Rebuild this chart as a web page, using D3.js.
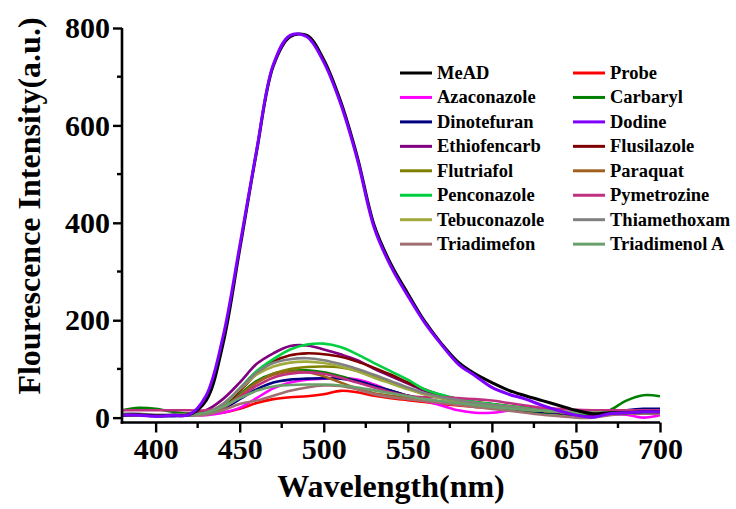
<!DOCTYPE html>
<html><head><meta charset="utf-8">
<script src="https://cdn.jsdelivr.net/npm/d3@7"></script>
<style>html,body{margin:0;padding:0;background:#fff;}svg{display:block;}</style>
</head><body>
<svg id="chart" width="736" height="509"></svg>
<script>
const wavelengths = [380,390,400,410,420,430,440,450,460,470,480,490,500,510,520,530,540,550,560,570,580,590,600,610,620,630,640,650,660,670,680,690,700];
const mead         = [5,6,4,5,6,35,150,345,545,722,782,785,735,650,535,395,315,255,198,152,114,90,72,56,45,35,25,15,8,10,10,12,12];
const probe        = [5,5,5,5,8,8,10,18,30,38,42,44,48,55,52,45,40,36,32,28,25,22,20,18,15,12,10,8,8,8,8,8,8];
const azaconazole  = [5,5,5,5,5,5,10,20,40,60,72,78,80,82,78,68,55,45,35,25,15,10,10,14,16,14,12,10,10,8,6,0,5];
const carbaryl     = [15,20,18,12,8,10,22,48,75,90,96,97,93,85,75,65,55,45,38,32,28,24,20,16,12,10,8,5,5,15,35,46,44];
const dinotefuran  = [5,5,3,3,5,8,18,38,58,72,78,80,81,80,75,65,55,45,38,32,28,24,20,18,15,12,10,8,8,10,15,18,18];
const dodine       = [5,5,3,5,6,45,165,352,548,725,785,782,730,645,530,390,310,250,195,150,110,86,62,48,38,25,14,5,1,8,10,12,12];
const ethiofencarb = [5,5,5,5,8,15,38,72,110,132,147,148,140,130,118,100,85,70,55,45,38,30,26,22,18,14,10,6,3,6,8,10,12];
const flusilazole  = [5,5,5,5,6,10,25,55,90,115,128,132,130,125,115,102,88,72,58,46,38,32,28,24,20,16,12,10,8,8,10,10,12];
const flutriafol   = [5,5,5,5,6,8,20,45,72,90,100,104,105,103,96,85,72,60,48,40,34,28,24,20,17,14,12,10,10,10,10,12,12];
const paraquat     = [5,5,5,5,6,8,20,45,72,88,94,93,85,72,60,50,45,40,36,32,28,25,22,20,17,14,12,10,8,8,8,8,8];
const penconazole  = [5,5,5,5,5,8,25,60,95,120,140,150,152,145,130,112,95,78,58,47,38,32,28,24,20,15,12,10,8,8,10,12,14];
const pymetrozine  = [15,15,15,15,15,15,22,42,65,82,90,93,90,82,72,62,52,45,42,42,40,38,35,30,25,20,18,16,15,15,15,15,15];
const tebuconazole = [5,5,5,5,6,10,28,58,88,105,113,115,112,105,95,82,70,58,48,40,35,30,26,22,18,14,12,10,10,10,10,10,12];
const thiamethoxam = [8,8,6,6,6,10,28,60,92,112,120,122,118,110,100,88,75,62,50,42,36,30,26,22,18,15,12,10,10,10,10,10,10];
const triadimefon  = [5,5,5,5,5,6,15,28,35,45,55,62,66,65,58,48,42,38,34,30,26,22,18,14,10,6,3,0,0,5,8,8,8];
const triadimenolA = [5,5,5,5,6,10,22,40,55,64,67,68,68,66,62,56,50,44,38,34,30,26,22,19,16,14,12,10,10,10,10,10,12];

const seriesNames  = ["MeAD","Probe","Azaconazole","Carbaryl","Dinotefuran","Dodine","Ethiofencarb","Flusilazole","Flutriafol","Paraquat","Penconazole","Pymetrozine","Tebuconazole","Thiamethoxam","Triadimefon","Triadimenol A"];
const seriesValues = [mead,probe,azaconazole,carbaryl,dinotefuran,dodine,ethiofencarb,flusilazole,flutriafol,paraquat,penconazole,pymetrozine,tebuconazole,thiamethoxam,triadimefon,triadimenolA];
const seriesColors = ["#000000","#ff0000","#ff00ff","#008000","#000080","#8000ff","#800080","#800000","#808000","#a0601e","#00d040","#c03080","#a0aa3c","#808080","#a07070","#6aa06a"];
const xTicks = [400,450,500,550,600,650,700];
const yTicks = [0,200,400,600,800];

const svg = d3.select("#chart");
const m = {left:122, right:76, top:28, bottom:86.5};
const W = 736, H = 509;
const x = d3.scaleLinear().domain([380,700]).range([m.left, W - m.right]);
const y = d3.scaleLinear().domain([-10,800]).range([H - m.bottom, m.top]);
const font = "'Liberation Serif','Times New Roman',serif";

svg.append("defs").append("clipPath").attr("id","clip").append("rect")
  .attr("x", m.left).attr("y", m.top - 5).attr("width", x(700) - m.left).attr("height", y(-10) - m.top + 5);

const line = d3.line().x((d,i)=>x(wavelengths[i])).y(d=>y(d)).curve(d3.curveCatmullRom.alpha(0.5));
const g = svg.append("g").attr("clip-path","url(#clip)");
const order = [1,2,3,4,6,7,8,9,10,11,12,13,14,15,0,5];
order.forEach(i => {
  g.append("path").datum(seriesValues[i]).attr("d", line)
    .attr("fill","none").attr("stroke", seriesColors[i])
    .attr("stroke-width", (i===0||i===5) ? 3 : 2.6).attr("stroke-linejoin","round");
});

const xMinor = d3.range(0, 13).map(k => 400 + 25*k).filter(v => !xTicks.includes(v));
const yMinor = [100,300,500,700];
const xAxis = d3.axisBottom(x).tickValues(xTicks).tickSize(10).tickPadding(5).tickSizeOuter(0);
const yAxis = d3.axisLeft(y).tickValues(yTicks).tickSize(9).tickPadding(3).tickSizeOuter(0);

const gx = svg.append("g").attr("transform",`translate(0,${y(-10)})`).call(xAxis);
gx.selectAll(".minor").data(xMinor).enter().append("line").attr("class","minor")
  .attr("x1",d=>x(d)).attr("x2",d=>x(d)).attr("y1",0).attr("y2",5.5);
const gy = svg.append("g").attr("transform",`translate(${m.left},0)`).call(yAxis);
gy.selectAll(".minor").data(yMinor).enter().append("line").attr("class","minor")
  .attr("x1",0).attr("x2",-5).attr("y1",d=>y(d)).attr("y2",d=>y(d));

[gx,gy].forEach(a => {
  a.select(".domain").attr("stroke","#000").attr("stroke-width",2.6);
  a.selectAll("line").attr("stroke","#000").attr("stroke-width",2.4);
  a.selectAll("text").attr("font-family",font).attr("font-weight","bold").attr("font-size",30).attr("fill","#000");
});
gy.select(".domain").attr("d", `M0,${y(-10)+1.3}V${y(800)}`);
gx.select(".domain").attr("d", `M${m.left-1.3},0H${x(700)}`);

svg.append("text").attr("x", (x(380)+x(700))/2).attr("y", 497)
  .attr("text-anchor","middle").attr("font-family",font).attr("font-weight","bold").attr("font-size",32)
  .text("Wavelength(nm)");
svg.append("text").attr("transform","translate(40,206) rotate(-90)")
  .attr("text-anchor","middle").attr("font-family",font).attr("font-weight","bold").attr("font-size",32)
  .text("Flourescence Intensity(a.u.)");

const lg = svg.append("g");
seriesNames.forEach((name,i) => {
  const col = i % 2, row = Math.floor(i/2);
  const lx = col === 0 ? 400 : 573;
  const ly = 73 + row*24.45;
  lg.append("line").attr("x1",lx).attr("x2",lx+32).attr("y1",ly).attr("y2",ly)
    .attr("stroke",seriesColors[i]).attr("stroke-width",3);
  lg.append("text").attr("x", lx+37).attr("y", ly+6).attr("font-family",font).attr("font-weight","bold")
    .attr("font-size",18.5).attr("fill","#000").text(name);
});
</script>
</body></html>
